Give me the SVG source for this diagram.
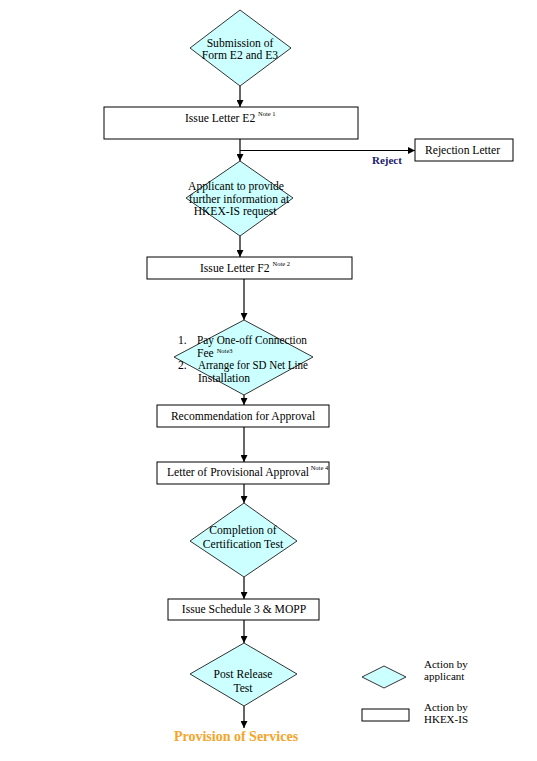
<svg xmlns="http://www.w3.org/2000/svg" width="537" height="761" viewBox="0 0 537 761">
<defs>
<marker id="ah" viewBox="0 0 10 10" refX="10" refY="5" markerWidth="7" markerHeight="7" markerUnits="userSpaceOnUse" orient="auto">
<path d="M0,0 L10,5 L0,10 z" fill="#000"/>
</marker>
<style>
.dia{fill:#CCFFFF;stroke:#333;stroke-width:1}
.box{fill:#fff;stroke:#000;stroke-width:1}
.t{font-family:"Liberation Serif","Times New Roman",serif;font-size:11.6px;fill:#000}
.c{text-anchor:middle}
.sup{font-size:6.5px}
.con{stroke:#000;stroke-width:1.2;fill:none;marker-end:url(#ah)}
</style>
</defs>
<rect width="537" height="761" fill="#fff"/>
<g id="connectors">
<line class="con" x1="240" y1="86" x2="240" y2="107"/>
<line class="con" x1="240" y1="139" x2="240" y2="161"/>
<line class="con" x1="240" y1="150.5" x2="415" y2="150.5"/>
<line class="con" x1="240" y1="236" x2="240" y2="257"/>
<line class="con" x1="244" y1="279" x2="244" y2="320"/>
<line class="con" x1="244" y1="395" x2="244" y2="405"/>
<line class="con" x1="244" y1="427" x2="244" y2="462"/>
<line class="con" x1="244" y1="484" x2="244" y2="503"/>
<line class="con" x1="244" y1="577" x2="244" y2="599"/>
<line class="con" x1="244" y1="620" x2="244" y2="643"/>
<line class="con" x1="244" y1="706" x2="244" y2="728"/>
<text class="t" x="372" y="164" style="font-weight:bold;fill:#1a1a6e;font-size:11px">Reject</text>
</g>
<g id="n1">
<polygon class="dia" points="240,10 291,48 240,86 190,48"/>
<text class="t c" x="240" y="46.5">Submission of</text>
<text class="t c" x="240" y="58.5">Form E2 and E3</text>
</g>
<g id="n2">
<rect class="box" x="104" y="107" width="254" height="32"/>
<text class="t" x="185" y="122">Issue Letter E2 <tspan class="sup" dy="-6">Note 1</tspan></text>
</g>
<g id="n3">
<rect class="box" x="415" y="139" width="98" height="22"/>
<text class="t" x="425" y="153.5">Rejection Letter</text>
</g>
<g id="n4">
<polygon class="dia" points="240,161 293,198 240,236 186,198"/>
<text class="t c" x="236" y="190">Applicant to provide</text>
<text class="t c" x="239" y="203">further information at</text>
<text class="t c" x="235" y="215">HKEX-IS request</text>
</g>
<g id="n5">
<rect class="box" x="147" y="257" width="205" height="22"/>
<text class="t" x="200" y="271.5">Issue Letter F2 <tspan class="sup" dy="-6">Note 2</tspan></text>
</g>
<g id="n6">
<polygon class="dia" points="244,320 313,357 244,395 174,357"/>
<text class="t" x="178" y="344">1.</text>
<text class="t" x="197" y="344" textLength="110" lengthAdjust="spacingAndGlyphs">Pay One-off Connection</text>
<text class="t" x="197" y="356.5">Fee <tspan class="sup" dy="-4">Note3</tspan></text>
<text class="t" x="178" y="368.5">2.</text>
<text class="t" x="198" y="368.5" textLength="110" lengthAdjust="spacingAndGlyphs">Arrange for SD Net Line</text>
<text class="t" x="198" y="382">Installation</text>
</g>
<g id="n7">
<rect class="box" x="157" y="405" width="172" height="22"/>
<text class="t c" x="243" y="420">Recommendation for Approval</text>
</g>
<g id="n8">
<rect class="box" x="157" y="462" width="172" height="22"/>
<text class="t" x="167" y="475.5">Letter of Provisional Approval<tspan class="sup" dy="-6"> Note 4</tspan></text>
</g>
<g id="n9">
<polygon class="dia" points="244,503 297,541 244,577 190,541"/>
<text class="t c" x="243" y="534">Completion of</text>
<text class="t c" x="243" y="548">Certification Test</text>
</g>
<g id="n10">
<rect class="box" x="168" y="599" width="151" height="21"/>
<text class="t c" x="244" y="613">Issue Schedule 3 &amp; MOPP</text>
</g>
<g id="n11">
<polygon class="dia" points="244,643 297,674 244,706 190,674"/>
<text class="t c" x="243" y="678">Post Release</text>
<text class="t c" x="243" y="692">Test</text>
</g>
<g id="n12">
<text class="t c" x="236" y="741" style="font-weight:bold;font-size:14px;fill:#F4A52A">Provision of Services</text>
</g>
<g id="legend">
<polygon class="dia" points="384,666 406,677 384,688 362,677"/>
<rect class="box" x="362" y="709" width="47" height="12"/>
<text class="t" x="424" y="668" style="font-size:11px">Action by</text>
<text class="t" x="424" y="680" style="font-size:11px">applicant</text>
<text class="t" x="424" y="711" style="font-size:11px">Action by</text>
<text class="t" x="424" y="723" style="font-size:11px">HKEX-IS</text>
</g>
</svg>
